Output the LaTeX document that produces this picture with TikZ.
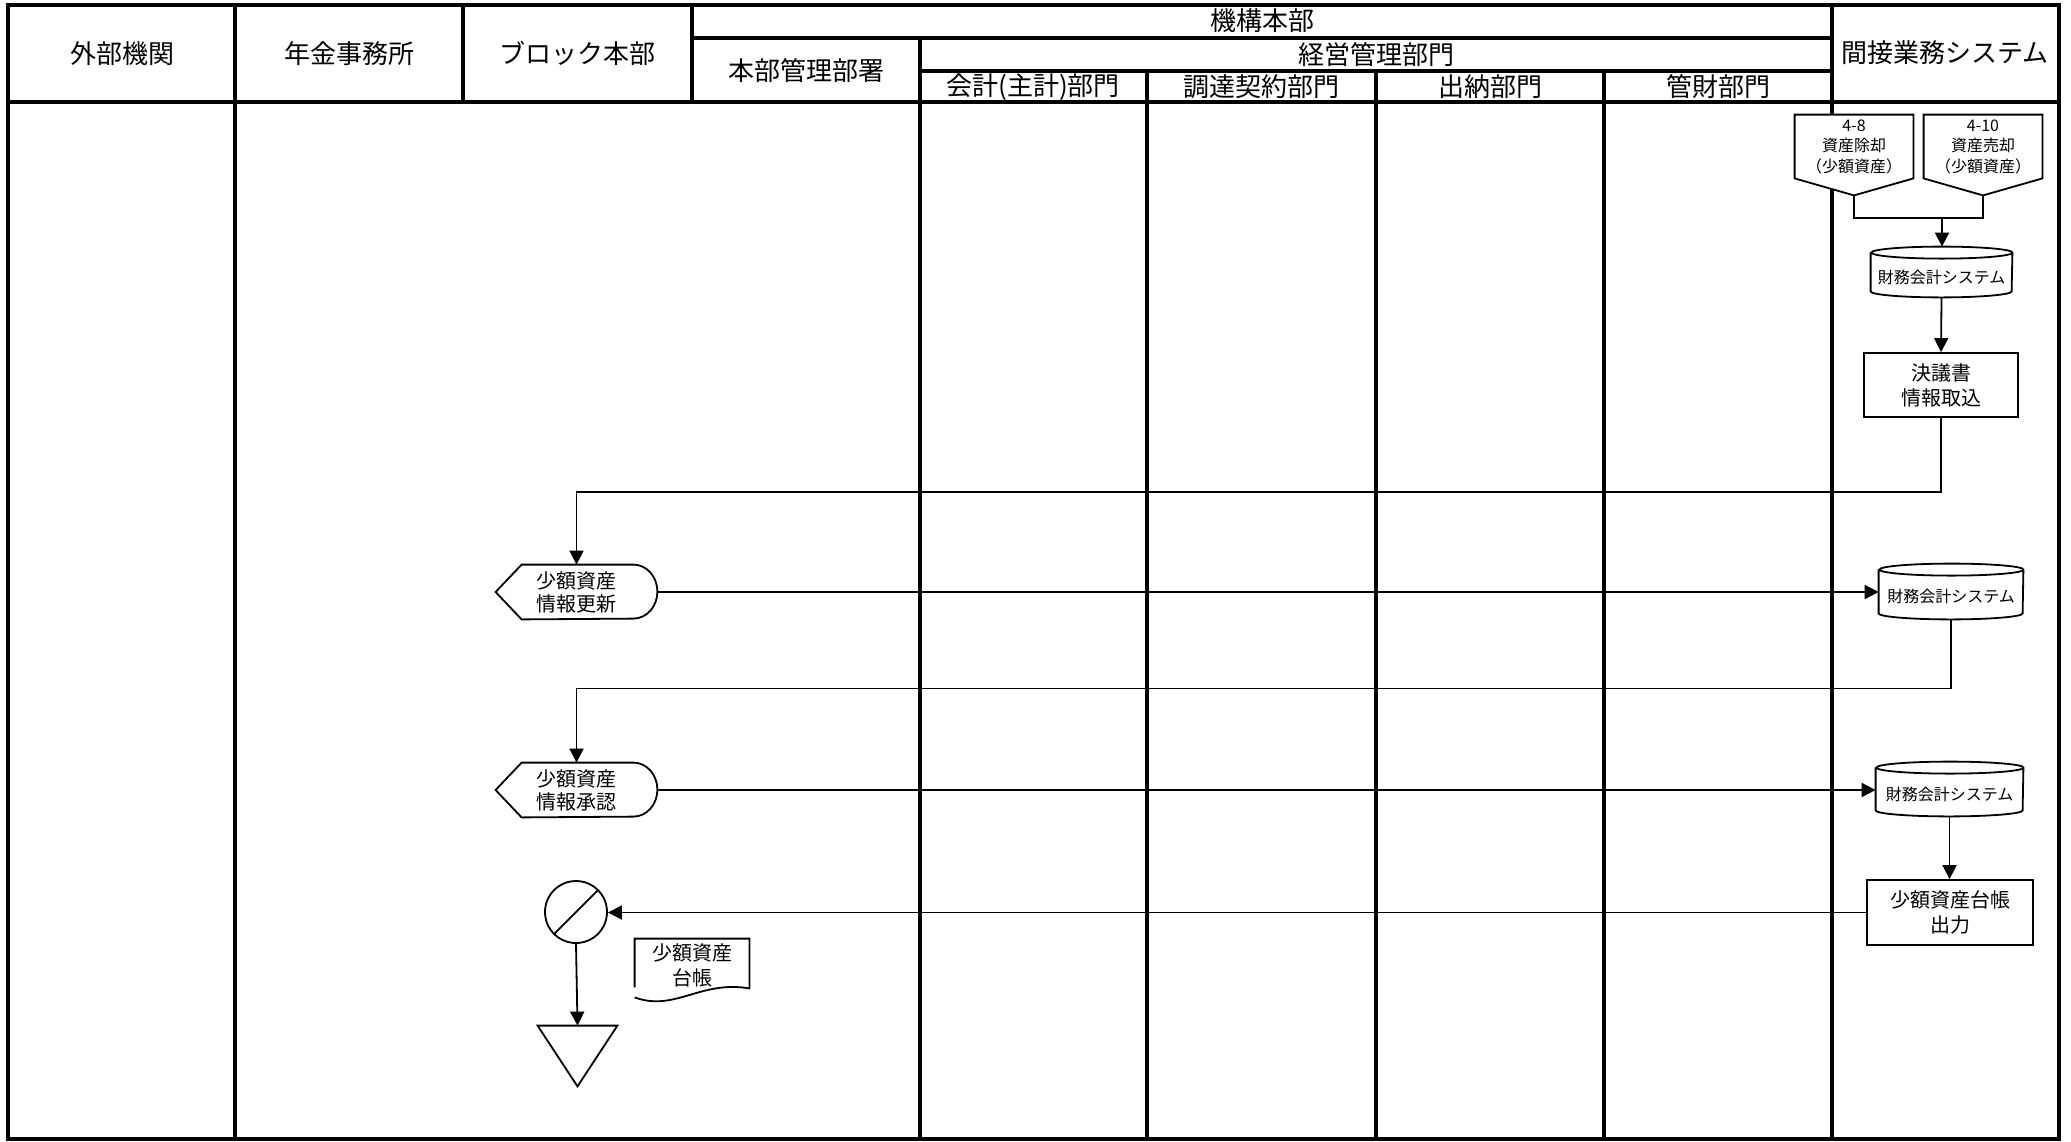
\documentclass[tikz,border=0pt]{standalone}
\usepackage{fontspec}
\setmainfont{Noto Sans CJK JP}
\usetikzlibrary{arrows.meta}
\begin{document}
\begin{tikzpicture}[x=0.5pt,y=-0.5pt,
  lane/.style={line width=1.6pt},
  conn/.style={line width=0.9pt},
  arr/.style={conn,-{Triangle[length=7pt,width=7pt]}},
  outl/.style={line width=0.9pt},
  hdr/.style={font=\fontsize{13}{15}\selectfont, inner sep=0pt},
  box/.style={draw, line width=0.9pt, align=center, font=\fontsize{10}{12.5}\selectfont, inner sep=0pt},
  ghost/.style={draw=none, inner sep=0pt, align=center, font=\fontsize{10}{11.5}\selectfont},
  small/.style={draw=none, inner sep=0pt, align=center, font=\fontsize{8}{10.25}\selectfont},
]
\useasboundingbox (0,0) rectangle (2071,1141);

% ---- frame and lanes ----
\draw[lane] (8,5) rectangle (2059,1139);
\draw[lane] (8,102) -- (2059,102);
\draw[lane] (692,38) -- (1832,38);
\draw[lane] (920,71) -- (1832,71);
\draw[lane] (235,5) -- (235,1139);
\draw[lane] (463,5) -- (463,102);
\draw[lane] (692,5) -- (692,102);
\draw[lane] (920,38) -- (920,1139);
\draw[lane] (1147,71) -- (1147,1139);
\draw[lane] (1376,71) -- (1376,1139);
\draw[lane] (1604,71) -- (1604,1139);
\draw[lane] (1832,5) -- (1832,1139);

% ---- headers ----
\node[hdr] (h1) at (122,54) {外部機関};
\node[hdr] (h2) at (349,54) {年金事務所};
\node[hdr] (h3) at (577,53) {ブロック本部};
\node[hdr] (h4) at (806,71) {本部管理部署};
\node[hdr] (h5) at (1262,21) {機構本部};
\node[hdr] (h6) at (1376,55) {経営管理部門};
\node[hdr] (h7) at (1033,87) {会計(主計)部門};
\node[hdr] (h8) at (1261,87) {調達契約部門};
\node[hdr] (h9) at (1490,87) {出納部門};
\node[hdr] (h10) at (1718,87) {管財部門};
\node[hdr] (h11) at (1945,53) {間接業務システム};

% ---- off-page connectors ----
\node[small, minimum width=59pt, minimum height=31.5pt] (p1) at (1854,146.5) {};
\node[small, minimum width=59pt, minimum height=31.5pt] (p2) at (1983,146.5) {};
\foreach \p in {p1,p2}{
  \draw[outl, fill=white] (\p.north west) -- (\p.north east) -- (\p.south east) -- ([yshift=-8.5pt]\p.south) -- (\p.south west) -- cycle;
}
\node[small] (p1txt) at (p1) {4-8\\資産除却\\（少額資産）};
\node[small] (p2txt) at (p2) {4-10\\資産売却\\（少額資産）};
\coordinate (p1t) at ([yshift=-8.5pt]p1.south);
\coordinate (p2t) at ([yshift=-8.5pt]p2.south);
\coordinate (m) at (1942,218);

% ---- cylinders ----
\node[small, minimum width=70.5pt, minimum height=25pt] (c1) at (1941.5,272) {\raisebox{-2.5pt}[\height][\depth]{財務会計システム}};
\node[small, minimum width=72pt, minimum height=27.5pt] (c2) at (1951,591.5) {\raisebox{-2.5pt}[\height][\depth]{財務会計システム}};
\node[small, minimum width=73.5pt, minimum height=27pt] (c3) at (1949.5,789) {\raisebox{-2.5pt}[\height][\depth]{財務会計システム}};
\foreach \c/\r in {c1/35.25pt,c2/36pt,c3/36.75pt}{
  \draw[outl] ([yshift=-3pt]\c.north west) -- ([yshift=3pt]\c.south west)
    arc[start angle=180,end angle=360,x radius=\r,y radius=3pt]
    -- ([yshift=-3pt]\c.north east)
    arc[start angle=0,end angle=180,x radius=\r,y radius=3pt]
    arc[start angle=180,end angle=360,x radius=\r,y radius=3pt];
}

% ---- process boxes ----
\node[box, minimum width=77pt, minimum height=32pt] (k) at (1941,385) {決議書\\情報取込};
\node[box, minimum width=83pt, minimum height=32.5pt] (b2) at (1950,912.5) {少額資産台帳\\出力};

% ---- display shapes ----
\node[ghost, minimum width=80.5pt, minimum height=27pt] (d1) at (576.5,592) {少額資産\\情報更新};
\node[ghost, minimum width=80.5pt, minimum height=27pt] (d2) at (576.5,790) {少額資産\\情報承認};
\foreach \d in {d1,d2}{
  \draw[outl] (\d.west) -- ([xshift=13pt]\d.north west) -- ([xshift=-12pt]\d.north east)
    arc[start angle=90,end angle=-90,x radius=12pt,y radius=13.5pt]
    -- ([xshift=13pt]\d.south west) -- cycle;
}

% ---- terminal symbols ----
\node[circle, draw, outl, minimum size=31pt, inner sep=0pt] (o) at (576,912) {};
\draw[outl] (o.225) -- (o.45);
\node[draw=none, minimum width=39.5pt, minimum height=30pt, inner sep=0pt] (tri) at (577.5,1056) {};
\draw[outl] (tri.north west) -- (tri.north east) -- (tri.south) -- cycle;

% ---- document ----
\node[ghost, font=\fontsize{10}{12.5}\selectfont, minimum width=57pt, minimum height=26.5pt] (doc) at (692,965.5) {少額資産\\台帳};
\draw[outl] ([yshift=2.5pt]doc.south west) -- (doc.north west) -- (doc.north east) -- ([yshift=2pt]doc.south east)
  .. controls (700,980) and (675,1012) .. ([yshift=-2.5pt]doc.south west);

% ---- connectors ----
\draw[conn] (p1t) |- (m) -| (p2t);
\draw[arr] (m) -- (m |- c1.north);
\draw[arr] (c1.south) -- (k.north);
\draw[arr] (k.south) -- ++(0,74) -| (d1.north);
\draw[arr] (d1.east) -- (d1.east -| c2.west);
\draw[arr] (c2.south) -- ++(0,69) -| (d2.north);
\draw[arr] (d2.east) -- (d2.east -| c3.west);
\draw[arr] (c3.south) -- (c3.south |- b2.north);
\draw[arr] (b2.west) -- (b2.west -| o.east);
\draw[arr] (o.south) -- (tri.north);
\end{tikzpicture}
\end{document}
